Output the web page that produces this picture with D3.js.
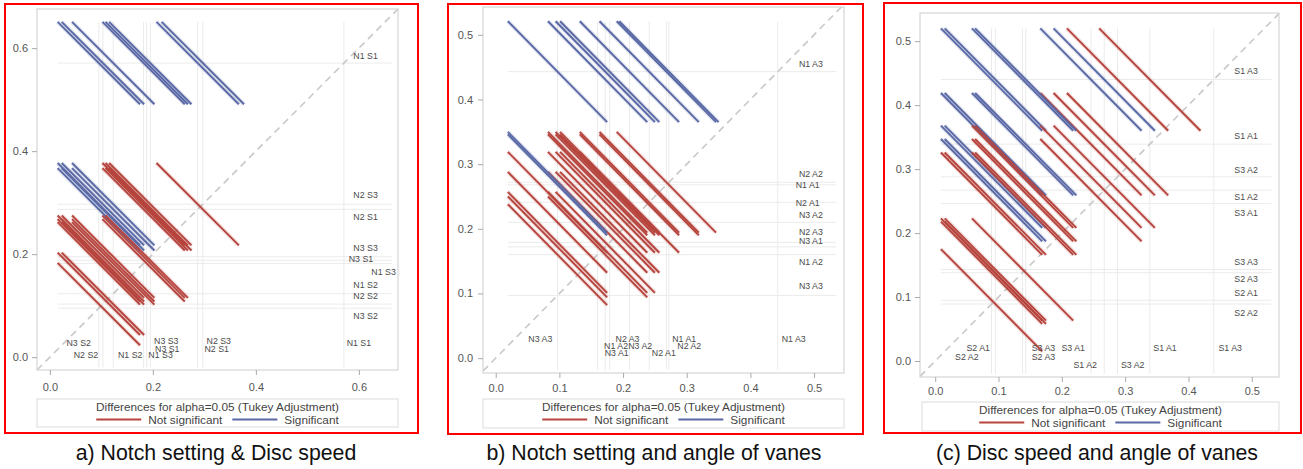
<!DOCTYPE html>
<html><head><meta charset="utf-8">
<script src="https://cdn.jsdelivr.net/npm/d3@7"></script>
<style>
body{margin:0;background:#fff;}
svg{display:block;font-family:Arial,"Liberation Sans",sans-serif;}
</style>
</head><body>
<svg id="chart" width="1303" height="469"></svg>
<script>
// ---------------- DATA ----------------
// Panel a: Notch setting x Disc speed (LS-means)
const levelsA = ["N1 S1","N1 S2","N1 S3","N2 S1","N2 S2","N2 S3","N3 S1","N3 S2","N3 S3"];
const meansA  = [0.571, 0.123, 0.182, 0.287, 0.103, 0.297, 0.188, 0.095, 0.195];
const ciWidthA = 0.16;   // Tukey-adjusted CI half-width of a difference
const ticksA = [0.0, 0.2, 0.4, 0.6];
const rightLabelsA = [["N1 S1",0.584,0.613],["N2 S3",0.314,0.613],["N2 S1",0.272,0.613],["N3 S3",0.211,0.613],
  ["N3 S1",0.190,0.604],["N1 S3",0.166,0.648],["N1 S2",0.140,0.613],["N2 S2",0.119,0.613],["N3 S2",0.080,0.613]];
const bottomLabelsA = [["N3 S2",0.056,0.027],["N2 S2",0.070,0.004],["N1 S2",0.156,0.004],["N1 S3",0.215,0.004],
  ["N3 S3",0.226,0.031],["N3 S1",0.228,0.015],["N2 S3",0.328,0.031],["N2 S1",0.324,0.015],["N1 S1",0.600,0.028]];
const captionA = "a) Notch setting & Disc speed";

// Panel b: Notch setting x angle of vanes
const levelsB = ["N1 A1","N1 A2","N1 A3","N2 A1","N2 A2","N2 A3","N3 A1","N3 A2","N3 A3"];
const meansB  = [0.268, 0.160, 0.443, 0.241, 0.272, 0.179, 0.172, 0.210, 0.097];
const ciWidthB = 0.156;
const ticksB = [0.0, 0.1, 0.2, 0.3, 0.4, 0.5];
const rightLabelsB = [["N1 A3",0.455,0.495],["N2 A2",0.284,0.495],["N1 A1",0.268,0.490],["N2 A1",0.240,0.490],
  ["N3 A2",0.221,0.495],["N2 A3",0.195,0.495],["N3 A1",0.181,0.495],["N1 A2",0.148,0.495],["N3 A3",0.111,0.495]];
const bottomLabelsB = [["N3 A3",0.070,0.029],["N2 A3",0.207,0.030],["N1 A2",0.189,0.019],["N3 A2",0.227,0.019],
  ["N3 A1",0.190,0.008],["N1 A1",0.296,0.030],["N2 A2",0.304,0.019],["N2 A1",0.264,0.008],["N1 A3",0.468,0.029]];
const captionB = "b) Notch setting and angle of vanes";

// Panel c: Disc speed x angle of vanes
const levelsC = ["S1 A1","S1 A2","S1 A3","S2 A1","S2 A2","S2 A3","S3 A1","S3 A2","S3 A3"];
const meansC  = [0.339, 0.267, 0.440, 0.095, 0.089, 0.138, 0.246, 0.288, 0.143];
const ciWidthC = 0.16;
const ticksC = [0.0, 0.1, 0.2, 0.3, 0.4, 0.5];
const rightLabelsC = [["S1 A3",0.454,0.491],["S1 A1",0.352,0.491],["S3 A2",0.298,0.491],["S1 A2",0.256,0.491],
  ["S3 A1",0.232,0.491],["S3 A3",0.155,0.491],["S2 A3",0.128,0.491],["S2 A1",0.106,0.491],["S2 A2",0.075,0.491]];
const bottomLabelsC = [["S2 A1",0.068,0.020],["S2 A2",0.050,0.007],["S3 A3",0.171,0.020],["S3 A1",0.218,0.020],
  ["S2 A3",0.171,0.006],["S1 A2",0.237,-0.006],["S3 A2",0.312,-0.006],["S1 A1",0.363,0.020],["S1 A3",0.466,0.020]];
const captionC = "(c) Disc speed and angle of vanes";

const legendTitle = "Differences for alpha=0.05 (Tukey Adjustment)";
const legendItems = ["Not significant", "Significant"];

// ---------------- LAYOUT / STYLE ----------------
const COL_NS = "#b6443d", COL_S = "#5a69a6";
const panels = [
  {levels:levelsA, means:meansA, ci:ciWidthA, ticks:ticksA, right:rightLabelsA, bottom:bottomLabelsA, caption:captionA,
   frame:[5,4,413,429], plot:[37,9,398,370], xdom:[-0.025,0.676], ydom:[-0.025,0.676],
   legend:[37,399,398,427], ypad:4, xpad:8, capX:216},
  {levels:levelsB, means:meansB, ci:ciWidthB, ticks:ticksB, right:rightLabelsB, bottom:bottomLabelsB, caption:captionB,
   frame:[448,4,415,430], plot:[483,7,844,373], xdom:[-0.020,0.547], ydom:[-0.023,0.543],
   legend:[483,399,844,428], ypad:5, xpad:6, capX:654},
  {levels:levelsC, means:meansC, ci:ciWidthC, ticks:ticksC, right:rightLabelsC, bottom:bottomLabelsC, caption:captionC,
   frame:[884,3,417,430], plot:[920,13,1279,377], xdom:[-0.024,0.543], ydom:[-0.025,0.544],
   legend:[922,402,1279,431], ypad:4, xpad:5, capX:1097}
];

const svg = d3.select("#chart");
svg.append("rect").attr("width",1303).attr("height",469).attr("fill","#fff");

panels.forEach(p => {
  const g = svg.append("g");
  const [L,T,R,B] = p.plot;
  const x = d3.scaleLinear().domain(p.xdom).range([L,R]);
  const y = d3.scaleLinear().domain(p.ydom).range([B,T]);
  const h = p.ci/2;
  const maxM = d3.max(p.means), minM = d3.min(p.means);

  // reference lines
  const ref = g.append("g").attr("stroke","#ebebeb").attr("stroke-width",1);
  p.means.forEach(m => {
    ref.append("line").attr("x1",x(minM-h)).attr("x2",x(p.xdom[1]-0.012)).attr("y1",y(m)).attr("y2",y(m));
    ref.append("line").attr("x1",x(m)).attr("x2",x(m)).attr("y1",y(p.ydom[0]+0.005)).attr("y2",y(maxM+h));
  });

  // diagonal
  const dlo = Math.max(p.xdom[0],p.ydom[0]), dhi = Math.min(p.xdom[1],p.ydom[1]);
  g.append("line").attr("x1",x(dlo)).attr("y1",y(dlo)).attr("x2",x(dhi)).attr("y2",y(dhi))
    .attr("stroke","#c8c8c8").attr("stroke-width",1.6).attr("stroke-dasharray","7,5");

  // pairwise difference segments
  const pairs = [];
  for (let i=0;i<p.means.length;i++) for (let j=i+1;j<p.means.length;j++) {
    const lo = Math.min(p.means[i],p.means[j]), hi = Math.max(p.means[i],p.means[j]);
    pairs.push({lo, hi, sig: (hi-lo) > p.ci});
  }
  const seg = g.append("g");
  seg.selectAll("line.halo").data(pairs).join("line")
    .attr("x1",d=>x(d.lo-h)).attr("y1",d=>y(d.hi+h)).attr("x2",d=>x(d.lo+h)).attr("y2",d=>y(d.hi-h))
    .attr("stroke",d=>d.sig?COL_S:COL_NS).attr("stroke-opacity",0.15).attr("stroke-width",4.5);
  seg.selectAll("line.seg").data(pairs).join("line")
    .attr("x1",d=>x(d.lo-h)).attr("y1",d=>y(d.hi+h)).attr("x2",d=>x(d.lo+h)).attr("y2",d=>y(d.hi-h))
    .attr("stroke",d=>d.sig?COL_S:COL_NS).attr("stroke-width",1.9);

  // plot border
  g.append("rect").attr("x",L).attr("y",T).attr("width",R-L).attr("height",B-T)
    .attr("fill","none").attr("stroke","#d6d6d6").attr("stroke-width",1.2);

  // level labels
  const lab = g.append("g").attr("font-size",8.8).attr("fill","#4a4a4a").attr("text-anchor","middle")
    .attr("dominant-baseline","central");
  p.right.forEach(d => lab.append("text").attr("x",x(d[2])).attr("y",y(d[1])).text(d[0]));
  p.bottom.forEach(d => lab.append("text").attr("x",x(d[1])).attr("y",y(d[2])).text(d[0]));

  // axes
  const fmt = d3.format(".1f");
  const ay = g.append("g").attr("transform",`translate(${L},0)`)
    .call(d3.axisLeft(y).tickValues(p.ticks).tickFormat(fmt).tickSize(5).tickPadding(p.ypad));
  const ax = g.append("g").attr("transform",`translate(0,${B})`)
    .call(d3.axisBottom(x).tickValues(p.ticks).tickFormat(fmt).tickSize(5).tickPadding(p.xpad));
  [ax,ay].forEach(a => {
    a.select(".domain").remove();
    a.selectAll(".tick line").attr("stroke","#aaa");
    a.selectAll(".tick text").attr("fill","#555").attr("font-size",11).attr("font-family","Arial, 'Liberation Sans', sans-serif");
  });

  // legend
  const [lx0,ly0,lx1,ly1] = p.legend;
  g.append("rect").attr("x",lx0).attr("y",ly0).attr("width",lx1-lx0).attr("height",ly1-ly0)
    .attr("fill","#fff").attr("stroke","#dcdcdc").attr("stroke-width",1);
  const lc = (lx0+lx1)/2;
  g.append("text").attr("x",lc).attr("y",ly0+7.5).attr("text-anchor","middle").attr("dominant-baseline","central")
    .attr("font-size",11.8).attr("fill","#444").text(legendTitle);
  const ent = g.append("g");
  const ey = ly0+20.5;
  const lineLen = 45, gap1 = 7, gap2 = 10;
  const t1 = ent.append("text").attr("font-size",11.8).attr("fill","#444").attr("dominant-baseline","central").text(legendItems[0]);
  const t2 = ent.append("text").attr("font-size",11.8).attr("fill","#444").attr("dominant-baseline","central").text(legendItems[1]);
  const w1 = t1.node().getComputedTextLength(), w2 = t2.node().getComputedTextLength();
  const total = lineLen+gap1+w1+gap2+lineLen+gap1+w2;
  let cx = lc - total/2;
  ent.append("line").attr("x1",cx).attr("x2",cx+lineLen).attr("y1",ey).attr("y2",ey).attr("stroke",COL_NS).attr("stroke-width",2);
  cx += lineLen+gap1; t1.attr("x",cx).attr("y",ey); cx += w1+gap2;
  ent.append("line").attr("x1",cx).attr("x2",cx+lineLen).attr("y1",ey).attr("y2",ey).attr("stroke",COL_S).attr("stroke-width",2);
  cx += lineLen+gap1; t2.attr("x",cx).attr("y",ey);

  // red frame
  const [fx,fy,fw,fh] = p.frame;
  g.append("rect").attr("x",fx).attr("y",fy).attr("width",fw).attr("height",fh)
    .attr("fill","none").attr("stroke","#ff0000").attr("stroke-width",2);

  // caption
  g.append("text").attr("x",p.capX).attr("y",453).attr("text-anchor","middle").attr("dominant-baseline","central")
    .attr("font-size",21.3).attr("fill","#111").text(p.caption);
});
</script>
</body></html>
